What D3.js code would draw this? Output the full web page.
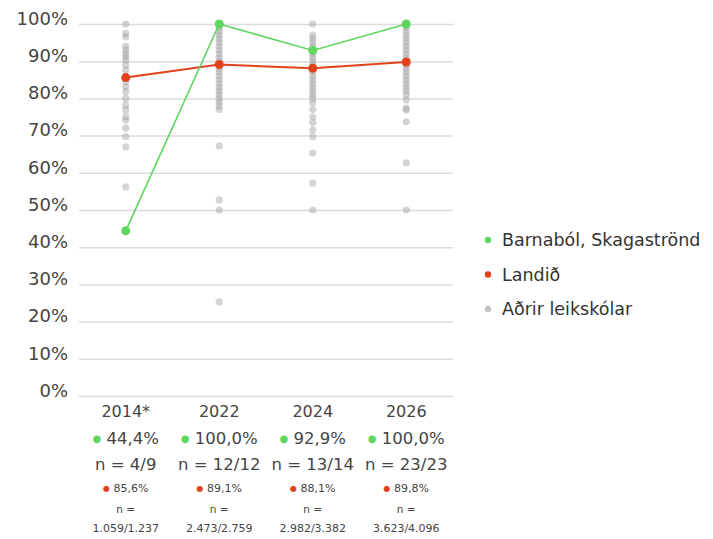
<!DOCTYPE html>
<html>
<head>
<meta charset="utf-8">
<script src="https://cdn.jsdelivr.net/npm/d3@7"></script>
<style>
  body { margin: 0; background: #fff; }
  text { font-family: "DejaVu Sans", sans-serif; }
</style>
</head>
<body>
<svg id="chart"></svg>
<script>
const years = ['2014*', '2022', '2024', '2026'];
const schoolVals = [44.4, 100, 92.9, 100];
const schoolN = ['4/9', '12/12', '13/14', '23/23'];
const landVals = [85.6, 89.1, 88.1, 89.8];
const landN = ['1.059/1.237', '2.473/2.759', '2.982/3.382', '3.623/4.096'];
const otherVals = [
    [100, 97.5, 96.5, 94, 93, 92, 91.2, 90.3, 89, 87.6, 84.5, 83.1, 81.8, 80, 78.2, 76.9, 75.1, 74.2, 72, 69.7, 67, 56.2],
    [100, 99, 98, 97, 96, 95, 94, 93, 92, 91, 90, 89, 88, 87, 86, 85, 84, 83, 82, 81, 80, 79, 78, 77, 67.2, 52.7, 50, 25.3],
    [100, 97, 96, 95, 94, 93, 92, 91, 90, 89, 88, 87, 86, 85, 84, 83, 82, 81, 80, 78.8, 77, 75, 73.5, 71.5, 69.7, 65.3, 57.2, 50],
    [100, 99, 98, 97, 96, 95, 94, 93, 92, 91, 90, 89, 88, 87, 86, 85, 84, 83, 82, 81, 79.6, 77.4, 76.9, 73.7, 62.7, 50]
];
const yTicks = [0, 10, 20, 30, 40, 50, 60, 70, 80, 90, 100];
const legendNames = ['Barnaból, Skagaströnd', 'Landið', 'Aðrir leikskólar'];

const width = 713, height = 539;
const green = '#5fd65f', red = '#e2421b', grey = '#a0a0a0';

const svg = d3.select('#chart')
    .attr('width', width)
    .attr('height', height);

const x = d3.scaleBand()
    .domain(years)
    .range([79, 453]);
const y = d3.scaleLinear()
    .domain([0, 100])
    .range([396, 24]);
const cx = (d) => x(d) + x.bandwidth() / 2;

// grid + y labels
const yAxis = d3.axisLeft(y)
    .tickValues(yTicks)
    .tickSize(-374)
    .tickFormat((d) => d + '%');
svg.append('g')
    .attr('transform', 'translate(79,0)')
    .call(yAxis)
    .call((g) => g.select('.domain').remove())
    .call((g) => g.selectAll('.tick line').attr('stroke', '#dcdcdc').attr('stroke-width', 1.5))
    .call((g) => g.selectAll('.tick text')
        .attr('x', -11)
        .attr('dy', '0.02em')
        .attr('fill', '#444')
        .style('font-size', '18px')
        .style('font-family', '"DejaVu Sans", sans-serif'));

// other preschools
otherVals.forEach((vals, i) => {
    svg.append('g').selectAll('circle')
        .data(vals)
        .enter()
        .append('circle')
        .attr('cx', cx(years[i]))
        .attr('cy', (d) => y(d))
        .attr('r', 3.6)
        .attr('fill', grey)
        .attr('fill-opacity', 0.45);
});

const line = d3.line()
    .x((d, i) => cx(years[i]))
    .y((d) => y(d));

svg.append('path')
    .datum(landVals)
    .attr('d', line)
    .attr('fill', 'none')
    .attr('stroke', red)
    .attr('stroke-width', 2);
svg.append('g').selectAll('circle')
    .data(landVals)
    .enter()
    .append('circle')
    .attr('cx', (d, i) => cx(years[i]))
    .attr('cy', (d) => y(d))
    .attr('r', 4.5)
    .attr('fill', red);

svg.append('path')
    .datum(schoolVals)
    .attr('d', line)
    .attr('fill', 'none')
    .attr('stroke', green)
    .attr('stroke-width', 1.6);
svg.append('g').selectAll('circle')
    .data(schoolVals)
    .enter()
    .append('circle')
    .attr('cx', (d, i) => cx(years[i]))
    .attr('cy', (d) => y(d))
    .attr('r', 4.5)
    .attr('fill', green);

// bottom labels
const fmt = (v) => v.toFixed(1).replace('.', ',') + '%';
const lab = svg.append('g').selectAll('g')
    .data(years)
    .enter()
    .append('g')
    .attr('transform', (d) => `translate(${cx(d)},0)`)
    .attr('text-anchor', 'middle')
    .attr('fill', '#444');

lab.append('text').attr('y', 417).style('font-size', '16px').text((d) => d);

const p1 = lab.append('text').attr('y', 444).style('font-size', '16.5px');
p1.append('tspan').attr('fill', green).style('font-size', '10px').attr('dy', -2).text('●');
p1.append('tspan').attr('dy', 2).text((d, i) => '\u00a0' + fmt(schoolVals[i]));

lab.append('text').attr('y', 470).style('font-size', '16.5px').text((d, i) => 'n = ' + schoolN[i]);

const p2 = lab.append('text').attr('y', 492).style('font-size', '11px');
p2.append('tspan').attr('fill', red).style('font-size', '8px').attr('dy', -1).text('●');
p2.append('tspan').attr('dy', 1).text((d, i) => '\u00a0' + fmt(landVals[i]));

lab.append('text').attr('y', 513).style('font-size', '10.5px').text('n =');
lab.append('text').attr('y', 532).style('font-size', '11px').text((d, i) => landN[i]);

// legend
const legColors = [green, red, '#c4c4c4'];
const leg = svg.append('g').selectAll('g')
    .data(legendNames)
    .enter()
    .append('g')
    .attr('transform', (d, i) => `translate(488,${240 + i * 34.5})`);
leg.append('circle').attr('r', 3.2).attr('fill', (d, i) => legColors[i]);
leg.append('text')
    .attr('x', 14)
    .attr('dy', '0.36em')
    .attr('fill', '#333')
    .style('font-size', '17.5px')
    .text((d) => d);
</script>
</body>
</html>
